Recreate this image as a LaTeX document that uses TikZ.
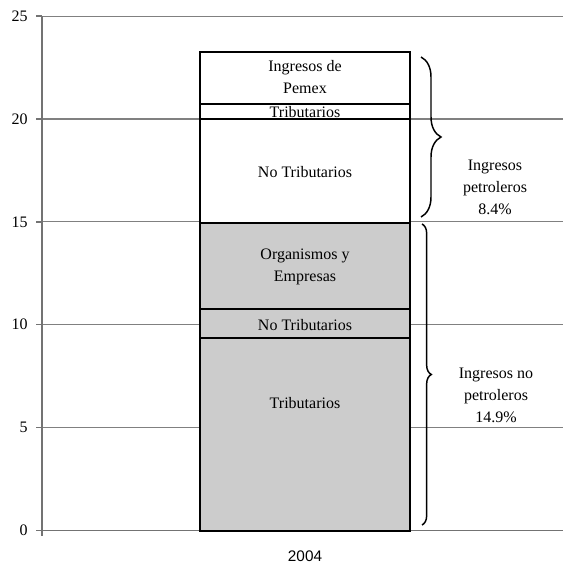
\documentclass[tikz,border=0pt]{standalone}
\usepackage{fontspec}
\setmainfont{Liberation Serif}
\newfontfamily\arialfont{Liberation Sans}
\usetikzlibrary{decorations.pathreplacing}
\begin{document}
\begin{tikzpicture}[x=0.75pt,y=-0.75pt,
  grid/.style={draw=black!50,line width=0.9pt},
  axisline/.style={draw=black!55,line width=1.1pt},
  seg/.style={draw=black,line width=1.3pt},
  lbl/.style={font=\fontsize{12}{16.5}\selectfont,align=center,inner sep=0pt},
  tick/.style={font=\fontsize{12}{14}\selectfont,anchor=east,inner sep=0pt},
  bracestyle/.style={draw=black,line width=1.1pt,decorate},
]
\useasboundingbox (0,0) rectangle (563,563);
\fill[white] (0,0) rectangle (563,563);
% gridlines
\foreach \v/\yy in {5/427.3,10/324.4,15/221.8,20/119.0,25/16.2}{
  \draw[grid] (42,\yy) -- (563,\yy);
  \draw[axisline] (36,\yy) -- (42,\yy);
  \node[tick] (t\v) at (28,\yy) {\v};
}
\node[tick] (t0) at (28,530.7) {0};
\draw[axisline] (36,530.7) -- (563,530.7);
\draw[axisline] (42,16.2) -- (42,536);
% bar segments
\filldraw[seg,fill=black!20] (200,337.7) rectangle (410,530.7);
\filldraw[seg,fill=black!20] (200,308.7) rectangle (410,337.7);
\filldraw[seg,fill=black!20] (200,223.3) rectangle (410,308.7);
\filldraw[seg,fill=white] (200,119.0) rectangle (410,223.3);
\filldraw[seg,fill=white] (200,104.0) rectangle (410,119.0);
\filldraw[seg,fill=white] (200,51.7) rectangle (410,104.0);
\draw[draw=black,line width=0.8pt] (200,119.0) -- (410,119.0);
% segment labels
\node[lbl] (pemex) at (305,77) {Ingresos de\\Pemex};
\node[lbl] (trib1) at (305,112) {Tributarios};
\node[lbl] (notrib1) at (305,172) {No Tributarios};
\node[lbl] (org) at (305,267) {Organismos y\\Empresas};
\node[lbl] (notrib2) at (305,325) {No Tributarios};
\node[lbl] (trib2) at (305,403) {Tributarios};
% braces
\coordinate (b1top) at (421,57);
\coordinate (b1bot) at (421,217);
\coordinate (b2top) at (422,224);
\coordinate (b2bot) at (422,525);
\draw[bracestyle,decoration={brace,amplitude=15pt}] (b1top) -- (b1bot);
\draw[bracestyle,decoration={brace,amplitude=7pt}] (b2top) -- (b2bot);
\node[lbl] (petro) at (495,187) {Ingresos\\petroleros\\8.4\%};
\node[lbl] (nopetro) at (496,395) {Ingresos no\\petroleros\\14.9\%};
% category label
\node[font=\arialfont\fontsize{11.5}{14}\selectfont,inner sep=0pt] (year) at (305,556) {2004};
\end{tikzpicture}
\end{document}
